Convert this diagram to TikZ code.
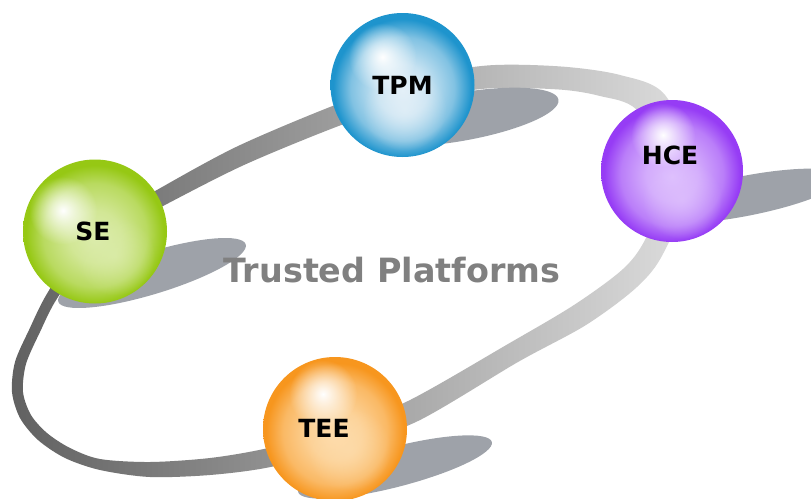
\documentclass[tikz,border=0pt]{standalone}
\usepackage{fontspec}
\setmainfont{DejaVu Sans}
\usetikzlibrary{fadings,calc}

\definecolor{tpmmain}{RGB}{30,148,205}
\definecolor{tpmpale}{RGB}{228,240,248}
\definecolor{hcemain}{RGB}{150,60,245}
\definecolor{hcepale}{RGB}{222,192,253}
\definecolor{semain}{RGB}{150,200,20}
\definecolor{sepale}{RGB}{220,236,172}
\definecolor{teemain}{RGB}{247,150,30}
\definecolor{teepale}{RGB}{253,220,172}
\definecolor{shadowgray}{RGB}{158,162,169}
\definecolor{titlegray}{RGB}{128,128,128}
\definecolor{bandL}{gray}{0.38}
\definecolor{bandR}{gray}{0.87}

\tikzfading[name=glowfade, inner color=transparent!0, outer color=transparent!100]

\newcommand{\mkballshade}[3]{%
  \pgfdeclareradialshading{#1}{\pgfpoint{0bp}{-2bp}}{%
    color(0bp)=(#3); color(9bp)=(#3!85!#2); color(18bp)=(#2!50!#3);
    color(24bp)=(#2); color(50bp)=(#2)}}
\mkballshade{tpmshade}{tpmmain}{tpmpale}
\mkballshade{hceshade}{hcemain}{hcepale}
\mkballshade{seshade}{semain}{sepale}
\mkballshade{teeshade}{teemain}{teepale}

\begin{document}
\begin{tikzpicture}[x=1pt,y=-1pt,
  ball/.style={circle, inner sep=0pt, minimum size=144pt},
  lbl/.style={font=\bfseries\fontsize{25}{30}\selectfont, text=black, inner sep=0pt},
  shadowfill/.style={fill=shadowgray},
  shine/.style={fill=white, path fading=glowfade},
  glow/.style={path fading=glowfade, fill opacity=0.75}]

\path[clip] (0,0) rectangle (811,498);
\fill[white] (0,0) rectangle (811,498);

% ring band
\shade[left color=bandL, right color=bandR, even odd rule]
  plot[smooth cycle] coordinates {(29,330) (48,292) (90,229.5) (156,190.5) (236,147) (330,107) (409,79) (487,65.5) (561,66.5) (620,75) (665,95) (696,170) (664,252) (637,287) (586,325) (518,362) (418,421) (338,449.5) (268,467.5) (210,475) (150,477) (100,470) (65,458) (38,440) (20,418) (12,392) (15,362)}
  plot[smooth cycle] coordinates {(40,332) (58,297) (100,240.5) (164,205.5) (244,165) (336,127) (411,101) (487,88.5) (559,89.5) (600,96) (637,110) (674,170) (646,238) (623,269) (574,305) (508,344) (408,401) (332,430.5) (266,448.5) (210,458) (150,462) (100,459) (70,448) (47,433) (31,415) (23,392) (26,364)};

% shadows
\fill[shadowfill, rotate around={10:(460,117)}] (460,117) ellipse[x radius=100pt, y radius=24pt];
\fill[shadowfill, rotate around={11:(745,196)}] (745,196) ellipse[x radius=100pt, y radius=20pt];
\fill[shadowfill, rotate around={17:(152,273)}] (152,273) ellipse[x radius=98pt, y radius=21pt];
\fill[shadowfill, rotate around={14.5:(395,467)}] (395,467) ellipse[x radius=100pt, y radius=20pt];

% spheres
\node[ball, shading=tpmshade] (tpm) at (402.5,85) {};
\node[ball, shading=hceshade, minimum size=142pt] (hce) at (672,171) {};
\node[ball, shading=seshade] (se) at (95,231.5) {};
\node[ball, shading=teeshade] (tee) at (335,429) {};

% glows and highlights
\fill[tpmpale, glow] ($(tpm)+(2,24)$) circle[radius=42pt];
\fill[hcepale, glow] ($(hce)+(10,28)$) circle[radius=40pt];
\fill[sepale, glow] ($(se)+(20,24)$) circle[radius=40pt];
\fill[teepale, glow] ($(tee)+(14,20)$) circle[radius=42pt];

\fill[shine] ($(tpm)+(-20,-28)$) circle[radius=34pt];
\fill[shine] ($(hce)+(-9,-36)$) circle[radius=32pt];
\fill[shine] ($(se)+(-32,-21)$) circle[radius=34pt];
\fill[shine] ($(tee)+(-12,-35)$) circle[radius=34pt];

% labels
\node[lbl] (tpmtext) at (402.5,85) {TPM};
\node[lbl] (hcetext) at (670,155) {HCE};
\node[lbl] (setext) at (93,231) {SE};
\node[lbl] (teetext) at (324,428) {TEE};

\node[font=\bfseries\fontsize{33.4}{40}\selectfont, text=titlegray, inner sep=0pt] (title) at (392,270) {Trusted Platforms};
\end{tikzpicture}
\end{document}
